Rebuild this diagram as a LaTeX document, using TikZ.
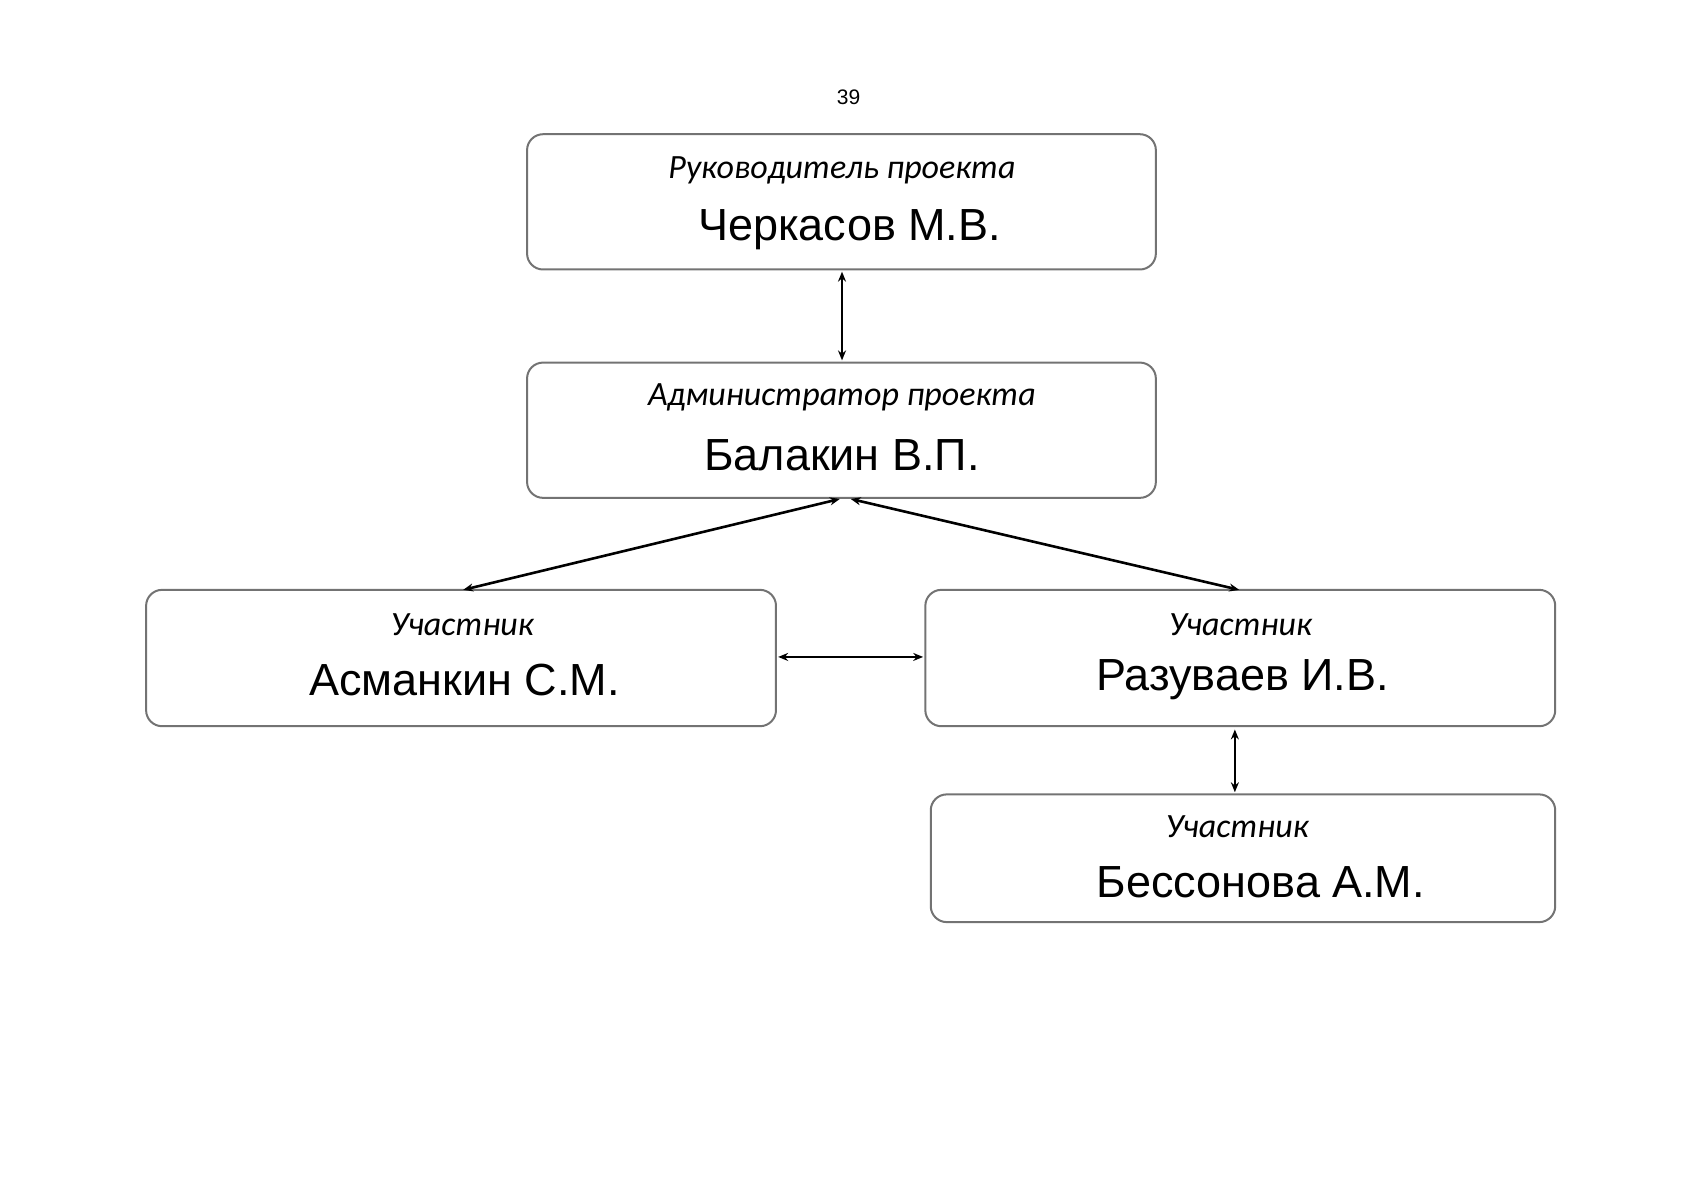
\documentclass[tikz,border=0pt]{standalone}
\usepackage{fontspec}
\setmainfont{Liberation Sans}
\newfontfamily\carlitofont{Carlito}
\usetikzlibrary{arrows.meta}
\begin{document}
\begin{tikzpicture}[x=0.5411pt,y=-0.5411pt,
 box/.style={draw=black!55,line width=1pt,rounded corners=8pt,inner sep=0pt},
 role/.style={font=\carlitofont\itshape\fontsize{17}{20}\selectfont,inner sep=0pt},
 nm/.style={font=\fontsize{22.5}{26}\selectfont,inner sep=0pt},
 con/.style={line width=1.3pt,{Stealth[length=5pt,width=4pt]}-{Stealth[length=5pt,width=4pt]}}]
\useasboundingbox (0,0) rectangle (1568,1109);
\node[font=\fontsize{10.5}{12}\selectfont] (pg) at (784,90) {39};
\node[box,minimum width=581*0.5411pt,minimum height=125*0.5411pt] (b1) at (777.5,186.5) {};
\node[box,minimum width=581*0.5411pt,minimum height=125*0.5411pt] (b2) at (777.5,397.5) {};
\node[box,minimum width=582*0.5411pt,minimum height=126*0.5411pt] (b3) at (426,608) {};
\node[box,minimum width=582*0.5411pt,minimum height=126*0.5411pt] (b4) at (1146,608) {};
\node[box,minimum width=577*0.5411pt,minimum height=118*0.5411pt] (b5) at (1148.5,793) {};
\node[role] (r1) at (778,157) {Руководитель проекта};
\node[nm] (n1) at (785,212) {Черкасов М.В.};
\node[role] (r2) at (778,367) {Администратор проекта};
\node[nm] (n2) at (778,421) {Балакин В.П.};
\node[role] (r3) at (427,577) {Участник};
\node[nm] (n3) at (429,628) {Асманкин С.М.};
\node[role] (r4) at (1146,577) {Участник};
\node[nm] (n4) at (1148,628) {Разуваев И.В.};
\node[role] (r5) at (1143,764) {Участник};
\node[nm] (n5) at (1165,815) {Бессонова А.М.};
\coordinate (a1) at (778,251); \coordinate (a2) at (778,333);
\coordinate (c1) at (776,461); \coordinate (c2) at (428,545);
\coordinate (d1) at (786,461); \coordinate (d2) at (1145,545);
\coordinate (e1) at (719,607); \coordinate (e2) at (853,607);
\coordinate (f1) at (1141,674); \coordinate (f2) at (1141,732);
\draw[con] (a1) -- (a2);
\draw[con] (c1) -- (c2);
\draw[con] (d1) -- (d2);
\draw[con] (e1) -- (e2);
\draw[con] (f1) -- (f2);
\end{tikzpicture}
\end{document}
